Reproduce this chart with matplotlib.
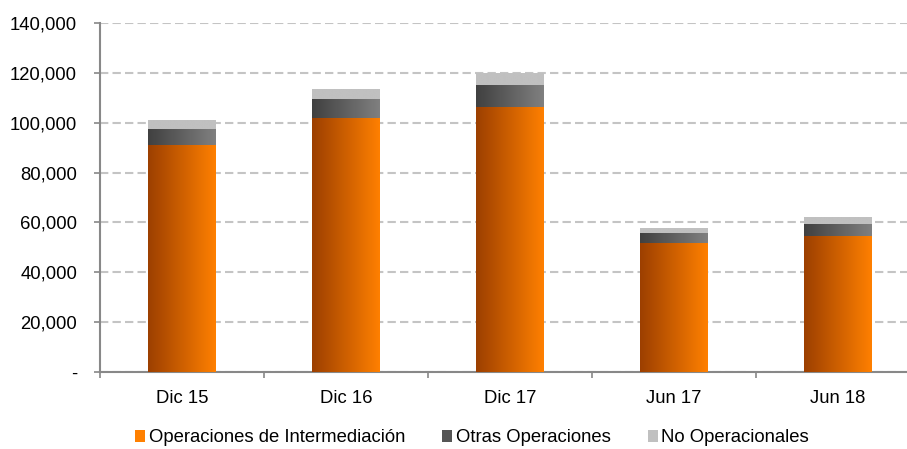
import numpy as np
import matplotlib
matplotlib.use('Agg')
import matplotlib.pyplot as plt
from matplotlib.colors import LinearSegmentedColormap
from matplotlib.patches import Patch
from matplotlib.ticker import FuncFormatter, MultipleLocator

categorias = ['Dic 15', 'Dic 16', 'Dic 17', 'Jun 17', 'Jun 18']
intermediacion = [91000, 102000, 106300, 51900, 54700]
otras = [6500, 7600, 8800, 4000, 4700]
no_operacionales = [3600, 4000, 4800, 1900, 2800]

series = [
    ('Operaciones de Intermediación', intermediacion, ('#9c3f00', '#ff8000')),
    ('Otras Operaciones', otras, ('#404040', '#808080')),
    ('No Operacionales', no_operacionales, ('#c0c0c0', '#c0c0c0')),
]

plt.rcParams['font.family'] = ['Liberation Sans', 'DejaVu Sans']
fs = 13.3

fig = plt.figure(figsize=(9.07, 4.49), dpi=100)
ax = fig.add_axes([100/907, 77/449, 820/907, 349/449])

ancho = 0.41
grad = np.linspace(0, 1, 256).reshape(1, -1)
x = np.arange(len(categorias))
base = np.zeros(len(categorias))
for nombre, vals, (c0, c1) in series:
    cmap = LinearSegmentedColormap.from_list(nombre, [c0, c1])
    for i, v in enumerate(vals):
        ax.imshow(grad, cmap=cmap, aspect='auto', zorder=3,
                  extent=[x[i] - ancho/2, x[i] + ancho/2, base[i], base[i] + v])
    base += np.array(vals)

ax.set_xlim(-0.5, len(categorias) - 0.5)
ax.set_ylim(0, 140000)
ax.yaxis.set_major_locator(MultipleLocator(20000))
ax.yaxis.set_major_formatter(FuncFormatter(lambda v, p: '-' if v == 0 else f'{v:,.0f}'))
ax.set_xticks(x)
ax.set_xticklabels(categorias)
ax.set_xticks(np.arange(-0.5, len(categorias), 1), minor=True)
ax.tick_params(axis='x', which='major', length=0, pad=13, labelsize=fs)
ax.tick_params(axis='x', which='minor', length=4, color='#888888', width=1.2, direction='out')
ax.tick_params(axis='y', length=4, color='#888888', width=1.2, labelsize=fs, pad=12.5)

ax.grid(axis='y', color='#c4c4c4', linestyle=(0, (4, 2)), linewidth=1.5, zorder=0)
ax.set_axisbelow(True)
for s in ['top', 'right']:
    ax.spines[s].set_visible(False)
for s in ['left', 'bottom']:
    ax.spines[s].set_color('#888888')
    ax.spines[s].set_linewidth(1.5)

handles = [Patch(facecolor=c1 if n != 'Otras Operaciones' else '#555555', label=n)
           for n, _, (c0, c1) in series]
fig.legend(handles=handles, loc='center', bbox_to_anchor=(472/907, 1 - 438/449),
           ncol=3, frameon=False, fontsize=fs, handlelength=0.55, handleheight=0.55,
           handletextpad=0.2, columnspacing=2.0, borderpad=0)

fig.savefig('out.png', dpi=100)
